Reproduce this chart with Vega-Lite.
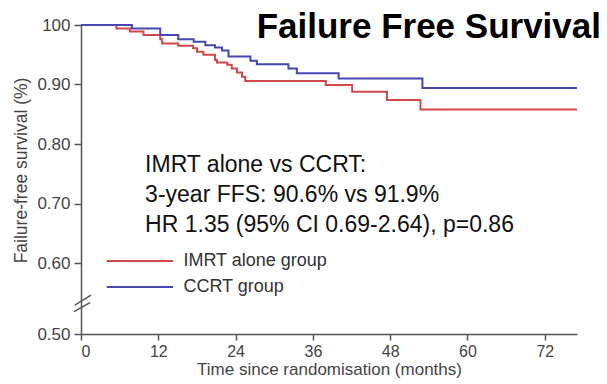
{
  "$schema": "https://vega.github.io/schema/vega-lite/v6.json",
  "width": 496,
  "height": 309,
  "autosize": {"type": "none"},
  "padding": {"left": 81, "top": 25, "right": 30, "bottom": 50},
  "background": "white",
  "config": {"view": {"stroke": null}, "font": "Liberation Sans"},
  "title": {
    "text": "Failure Free Survival",
    "anchor": "end",
    "frame": "group",
    "fontSize": 35,
    "fontWeight": "bold",
    "color": "#000000",
    "offset": -29,
    "dx": 24
  },
  "datasets": {
    "km": [
      {"group": "IMRT alone group", "month": 0, "surv": 1.0},
      {"group": "IMRT alone group", "month": 5.5, "surv": 0.994},
      {"group": "IMRT alone group", "month": 7.6, "surv": 0.989},
      {"group": "IMRT alone group", "month": 9.7, "surv": 0.983},
      {"group": "IMRT alone group", "month": 12.3, "surv": 0.976},
      {"group": "IMRT alone group", "month": 12.6, "surv": 0.969},
      {"group": "IMRT alone group", "month": 15.1, "surv": 0.965},
      {"group": "IMRT alone group", "month": 17.4, "surv": 0.961},
      {"group": "IMRT alone group", "month": 18.0, "surv": 0.955},
      {"group": "IMRT alone group", "month": 19.0, "surv": 0.95},
      {"group": "IMRT alone group", "month": 20.8, "surv": 0.941},
      {"group": "IMRT alone group", "month": 21.1, "surv": 0.937},
      {"group": "IMRT alone group", "month": 22.7, "surv": 0.933},
      {"group": "IMRT alone group", "month": 23.4, "surv": 0.927},
      {"group": "IMRT alone group", "month": 24.2, "surv": 0.92},
      {"group": "IMRT alone group", "month": 25.0, "surv": 0.913},
      {"group": "IMRT alone group", "month": 25.5, "surv": 0.906},
      {"group": "IMRT alone group", "month": 38.0, "surv": 0.899},
      {"group": "IMRT alone group", "month": 42.1, "surv": 0.888},
      {"group": "IMRT alone group", "month": 47.5, "surv": 0.874},
      {"group": "IMRT alone group", "month": 52.7, "surv": 0.858},
      {"group": "IMRT alone group", "month": 77, "surv": 0.858},
      {"group": "CCRT group", "month": 0, "surv": 1.0},
      {"group": "CCRT group", "month": 7.9, "surv": 0.994},
      {"group": "CCRT group", "month": 12.3, "surv": 0.983},
      {"group": "CCRT group", "month": 15.1, "surv": 0.976},
      {"group": "CCRT group", "month": 17.5, "surv": 0.972},
      {"group": "CCRT group", "month": 19.3, "surv": 0.966},
      {"group": "CCRT group", "month": 20.8, "surv": 0.962},
      {"group": "CCRT group", "month": 21.9, "surv": 0.957},
      {"group": "CCRT group", "month": 22.9, "surv": 0.947},
      {"group": "CCRT group", "month": 26.3, "surv": 0.94},
      {"group": "CCRT group", "month": 27.3, "surv": 0.934},
      {"group": "CCRT group", "month": 32.2, "surv": 0.927},
      {"group": "CCRT group", "month": 33.5, "surv": 0.919},
      {"group": "CCRT group", "month": 40.0, "surv": 0.91},
      {"group": "CCRT group", "month": 53.0, "surv": 0.894},
      {"group": "CCRT group", "month": 77, "surv": 0.894}
    ]
  },
  "encoding": {
    "x": {
      "type": "quantitative",
      "scale": {"domain": [0, 77], "nice": false, "zero": false},
      "axis": {
        "values": [0, 12, 24, 36, 48, 60, 72],
        "title": "Time since randomisation (months)",
        "grid": false,
        "domainColor": "#555555",
        "domainWidth": 1.5,
        "tickColor": "#555555",
        "tickWidth": 1.5,
        "tickSize": 6,
        "labelFontSize": 16,
        "labelColor": "#444444",
        "labelPadding": 3,
        "titleFontSize": 17,
        "titleFontWeight": "normal",
        "titleColor": "#444444",
        "titlePadding": 2
      }
    },
    "y": {
      "type": "quantitative",
      "scale": {"type": "linear", "domain": [0.5, 0.6, 1.0], "range": [309, 238, 0], "nice": false, "zero": false},
      "axis": {
        "values": [0.5, 0.6, 0.7, 0.8, 0.9, 1.0],
        "labelExpr": "datum.value == 1 ? '100' : format(datum.value, '.2f')",
        "title": "Failure-free survival (%)",
        "grid": false,
        "domainColor": "#555555",
        "domainWidth": 1.5,
        "tickColor": "#555555",
        "tickWidth": 1.5,
        "tickSize": 7,
        "labelFontSize": 17,
        "labelColor": "#444444",
        "labelPadding": 4,
        "titleFontSize": 17.5,
        "titleFontWeight": "normal",
        "titleColor": "#444444",
        "titlePadding": 6,
        "titleY": 145
      }
    },
    "color": {
      "type": "nominal",
      "scale": {"domain": ["IMRT alone group", "CCRT group"], "range": ["#d04848", "#4646b4"]},
      "legend": null
    }
  },
  "layer": [
    {
      "data": {"name": "km"},
      "mark": {"type": "line", "interpolate": "step-after", "strokeWidth": 2},
      "encoding": {
        "x": {"field": "month", "type": "quantitative"},
        "y": {"field": "surv", "type": "quantitative"},
        "color": {"field": "group", "type": "nominal"}
      }
    },
    {
      "data": {"values": [{}]},
      "mark": {"type": "rule", "stroke": "#555555", "strokeWidth": 1.5},
      "encoding": {"x": {"datum": -0.95}, "x2": {"datum": 1.55}, "y": {"datum": 0.5408}, "y2": {"datum": 0.5549}}
    },
    {
      "data": {"values": [{}]},
      "mark": {"type": "rule", "stroke": "#555555", "strokeWidth": 1.5},
      "encoding": {"x": {"datum": -1.1}, "x2": {"datum": 1.4}, "y": {"datum": 0.5314}, "y2": {"datum": 0.5441}}
    },
    {
      "data": {"values": [{}]},
      "mark": {"type": "rule", "strokeWidth": 2},
      "encoding": {"x": {"datum": 4.0}, "x2": {"datum": 14.3}, "y": {"datum": 0.6034}, "color": {"datum": "IMRT alone group"}}
    },
    {
      "data": {"values": [{}]},
      "mark": {"type": "rule", "strokeWidth": 2},
      "encoding": {"x": {"datum": 4.0}, "x2": {"datum": 14.3}, "y": {"datum": 0.5662}, "color": {"datum": "CCRT group"}}
    },
    {
      "data": {"values": [{}]},
      "mark": {"type": "text", "align": "left", "baseline": "middle", "fontSize": 18, "color": "#333333", "text": "IMRT alone group"},
      "encoding": {"x": {"datum": 15.9}, "y": {"datum": 0.6034}}
    },
    {
      "data": {"values": [{}]},
      "mark": {"type": "text", "align": "left", "baseline": "middle", "fontSize": 18, "color": "#333333", "text": "CCRT group"},
      "encoding": {"x": {"datum": 15.9}, "y": {"datum": 0.5662}}
    },
    {
      "data": {"values": [{}]},
      "mark": {"type": "text", "align": "left", "baseline": "middle", "fontSize": 23, "color": "#111111", "text": "IMRT alone vs CCRT:"},
      "encoding": {"x": {"datum": 9.95}, "y": {"datum": 0.7647}}
    },
    {
      "data": {"values": [{}]},
      "mark": {"type": "text", "align": "left", "baseline": "middle", "fontSize": 23, "color": "#111111", "text": "3-year FFS: 90.6% vs 91.9%"},
      "encoding": {"x": {"datum": 9.95}, "y": {"datum": 0.7143}}
    },
    {
      "data": {"values": [{}]},
      "mark": {"type": "text", "align": "left", "baseline": "middle", "fontSize": 23, "color": "#111111", "text": "HR 1.35 (95% CI 0.69-2.64), p=0.86"},
      "encoding": {"x": {"datum": 9.95}, "y": {"datum": 0.6639}}
    }
  ]
}
